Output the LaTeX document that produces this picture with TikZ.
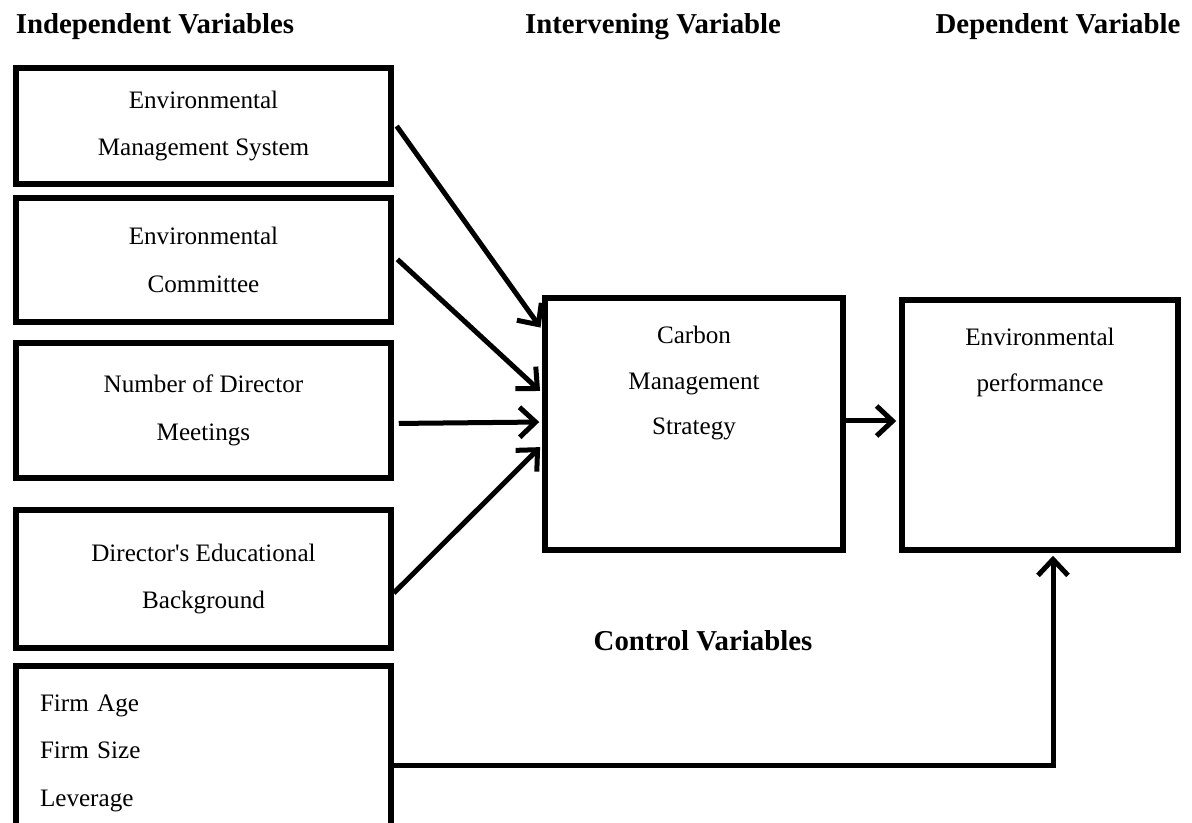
\documentclass[tikz,border=0pt]{standalone}
\usepackage{fontspec}
\setmainfont{Liberation Serif}
\usetikzlibrary{arrows.meta}

\begin{document}
\begin{tikzpicture}[auto,
    varbox/.style ={rectangle, draw, line width=0.11cm, minimum width=7.5cm,
                    align=center, font=\fontsize{14.3}{27}\selectfont},
    bigbox/.style ={rectangle, draw, line width=0.11cm},
    boxtext/.style ={align=center, font=\fontsize{14.3}{26}\selectfont},
    heading/.style ={font=\fontsize{16.4}{19}\selectfont\bfseries},
    arr/.style ={line width=0.1cm, shorten >=0.06cm,
                 -{Straight Barb[length=0.32cm,width=0.6cm]}}]
   \clip (0,0) rectangle (23.84,-16.46);

   \node[heading] (indep) at (3.1,-0.54)   {Independent Variables};
   \node[heading] (interv) at (13.06,-0.54) {Intervening Variable};
   \node[heading] (dep) at (21.16,-0.54)   {Dependent Variable};
   \node[heading] (ctrl) at (14.06,-12.82) {Control Variables};

   \node[varbox, minimum height=2.32cm] (ems) at (4.07,-2.52)  {Environmental\\Management System};
   \node[varbox, minimum height=2.48cm] (ec)  at (4.07,-5.2)   {Environmental\\Committee};
   \node[varbox, minimum height=2.7cm]  (ndm) at (4.07,-8.21)  {Number of Director\\Meetings};
   \node[varbox, minimum height=2.76cm] (deb) at (4.07,-11.58) {Director\textquotesingle s Educational\\Background};
   \node[varbox, minimum height=3.48cm, align=left, text width=6.54cm,
         inner xsep=0.48cm] (ctl) at (4.07,-15.06) {Firm Age\\Firm Size\\Leverage};

   \node[bigbox, minimum width=5.96cm, minimum height=5.04cm] (cms) at (13.88,-8.48) {};
   \node[boxtext] (cmstext) at (13.88,-7.66) {Carbon\\Management\\Strategy};
   \node[bigbox, minimum width=5.52cm, minimum height=5.0cm] (ep) at (20.8,-8.5) {};
   \node[boxtext] (eptext) at (20.8,-7.25) {Environmental\\performance};

   \draw[arr, shorten <=0.1cm] ([yshift=0.08cm]ems.east) to ([yshift=1.88cm]cms.west);
   \draw[arr, shorten <=0.1cm] ([yshift=0.08cm]ec.east) to ([yshift=0.62cm]cms.west);
   \draw[arr, shorten <=0.1cm] ([yshift=-0.26cm]ndm.east) to ([yshift=0.04cm]cms.west);
   \draw[arr] ([yshift=-0.28cm]deb.east) to ([yshift=-0.42cm]cms.west);
   \draw[arr] ([yshift=0.06cm]cms.east) to ([yshift=0.06cm]cms.east -| ep.west);
   \draw[arr] ([yshift=-0.24cm]ctl.east) -| ([xshift=0.26cm]ep.south);
 \end{tikzpicture}
\end{document}
